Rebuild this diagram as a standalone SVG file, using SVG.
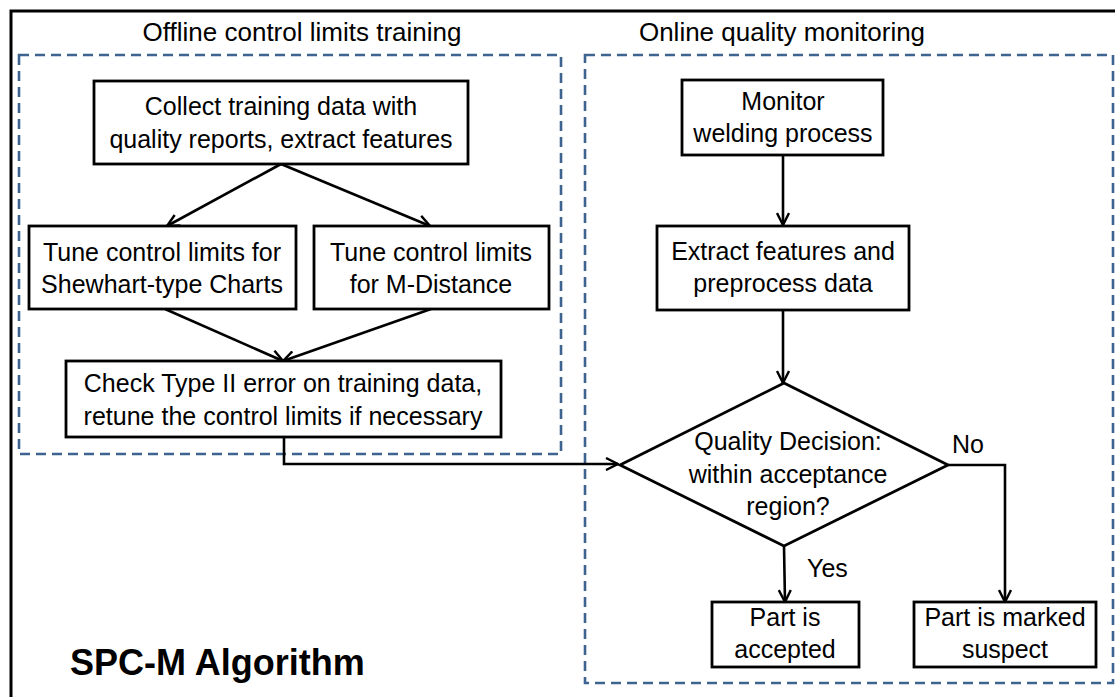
<svg xmlns="http://www.w3.org/2000/svg" width="1115" height="697" viewBox="0 0 1115 697">
<style>
  text { font-family: "Liberation Sans", Arial, sans-serif; font-size: 25px; fill: #000; text-anchor: middle; }
  .box { fill: #fff; stroke: #000; stroke-width: 2.8; }
  .grp { fill: none; stroke: #3d6391; stroke-width: 2.6; stroke-dasharray: 10 6; }
  .edge { fill: none; stroke: #000; stroke-width: 2.6; }
  .lbl { text-anchor: start; }
  .hdr { font-size: 26px; }
  .title { font-weight: bold; font-size: 36px; text-anchor: start; }
</style>
<defs>
  <marker id="arr" viewBox="0 0 14 14" refX="13" refY="7" markerWidth="14" markerHeight="14" markerUnits="userSpaceOnUse" orient="auto">
    <path d="M1,1 L13,7 L1,13" fill="none" stroke="#000" stroke-width="2.4"/>
  </marker>
</defs>
<rect x="0" y="0" width="1115" height="697" fill="#fff"/>
<rect x="11" y="11" width="1120" height="710" fill="none" stroke="#000" stroke-width="3"/>

<g id="group-offline">
  <rect class="grp" x="19" y="55" width="542" height="399"/>
  <text class="hdr" x="302" y="41">Offline control limits training</text>
</g>
<g id="group-online">
  <rect class="grp" x="585" y="55" width="528" height="628"/>
  <text class="hdr" x="782" y="41">Online quality monitoring</text>
</g>

<g id="connectors">
  <line class="edge" x1="281" y1="164" x2="167" y2="226" marker-end="url(#arr)"/>
  <line class="edge" x1="281" y1="164" x2="430" y2="226" marker-end="url(#arr)"/>
  <line class="edge" x1="165" y1="309" x2="283" y2="361" marker-end="url(#arr)"/>
  <line class="edge" x1="431" y1="309" x2="283" y2="361" marker-end="url(#arr)"/>
  <polyline class="edge" points="284,437 284,464 618,464" marker-end="url(#arr)"/>
  <line class="edge" x1="783" y1="155" x2="783" y2="225" marker-end="url(#arr)"/>
  <line class="edge" x1="783" y1="310" x2="783" y2="383" marker-end="url(#arr)"/>
  <line class="edge" x1="784" y1="546" x2="785" y2="602" marker-end="url(#arr)"/>
  <polyline class="edge" points="948,465 1005,465 1005,602" marker-end="url(#arr)"/>
</g>

<g id="n-collect">
  <rect class="box" x="94" y="81" width="374" height="83"/>
  <text x="281" y="115">Collect training data with</text>
  <text x="281" y="148">quality reports, extract features</text>
</g>
<g id="n-shewhart">
  <rect class="box" x="29" y="226" width="267" height="83"/>
  <text x="162" y="261">Tune control limits for</text>
  <text x="162" y="293">Shewhart-type Charts</text>
</g>
<g id="n-mdist">
  <rect class="box" x="314" y="226" width="235" height="83"/>
  <text x="431" y="261">Tune control limits</text>
  <text x="431" y="293">for M-Distance</text>
</g>
<g id="n-check">
  <rect class="box" x="66" y="361" width="435" height="76"/>
  <text x="283" y="392">Check Type II error on training data,</text>
  <text x="283" y="425">retune the control limits if necessary</text>
</g>
<g id="n-monitor">
  <rect class="box" x="682" y="80" width="201" height="75"/>
  <text x="783" y="110">Monitor</text>
  <text x="783" y="142">welding process</text>
</g>
<g id="n-extract">
  <rect class="box" x="657" y="226" width="252" height="84"/>
  <text x="783" y="260">Extract features and</text>
  <text x="783" y="292">preprocess data</text>
</g>
<g id="n-decision">
  <polygon class="box" points="784,383 948,465 784,546 620,465"/>
  <text x="788" y="450">Quality Decision:</text>
  <text x="788" y="483">within acceptance</text>
  <text x="788" y="515">region?</text>
</g>
<g id="n-accepted">
  <rect class="box" x="712" y="602" width="147" height="65"/>
  <text x="785" y="626">Part is</text>
  <text x="785" y="658">accepted</text>
</g>
<g id="n-suspect">
  <rect class="box" x="914" y="602" width="182" height="65"/>
  <text x="1005" y="626">Part is marked</text>
  <text x="1005" y="658">suspect</text>
</g>
<g id="labels">
  <text class="lbl" x="952" y="453">No</text>
  <text class="lbl" x="807" y="577">Yes</text>
  <text class="title" x="70" y="675">SPC-M Algorithm</text>
</g>
</svg>
